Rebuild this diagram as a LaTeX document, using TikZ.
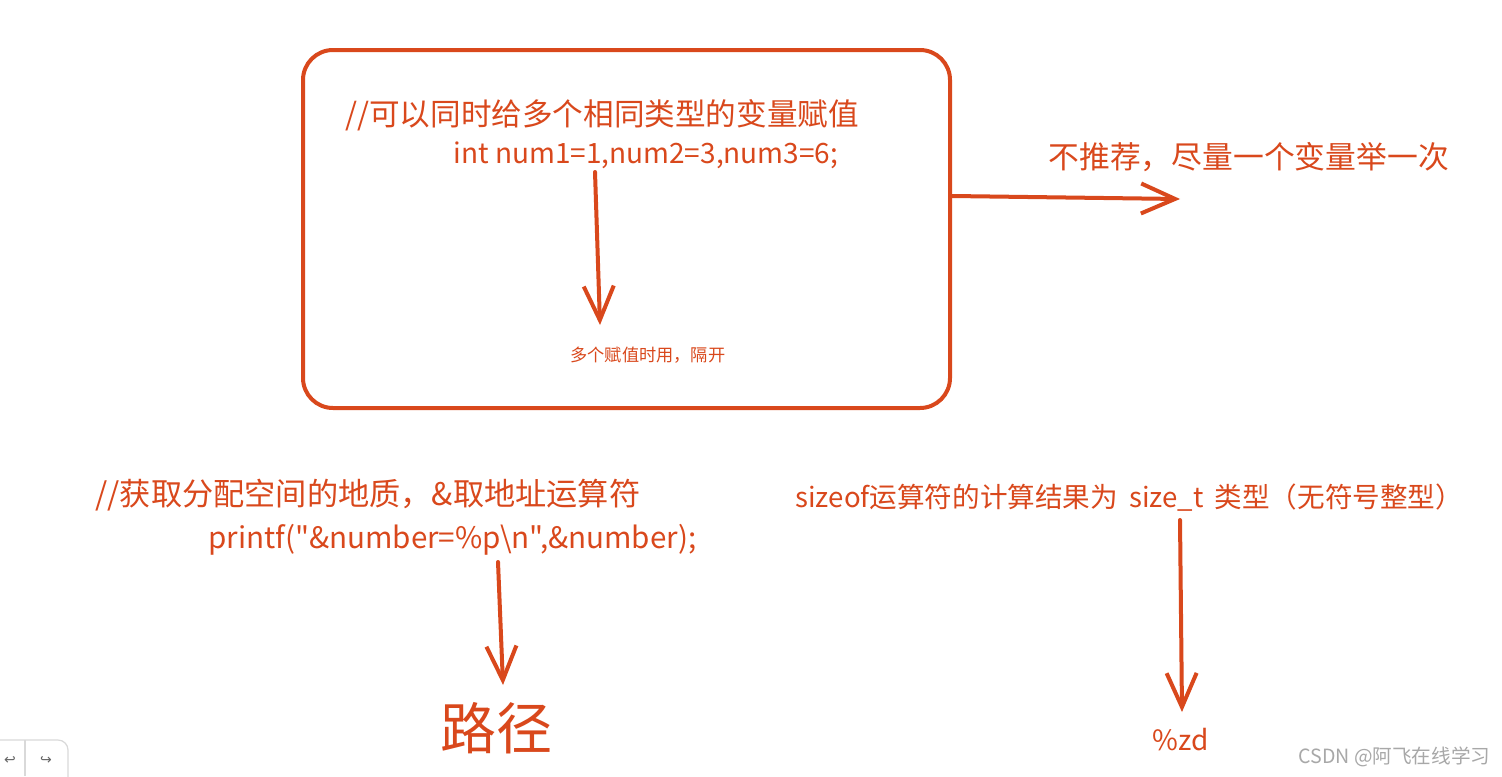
\documentclass[tikz,border=0pt]{standalone}
\usepackage{fontspec}
\setmainfont{Noto Sans CJK SC}
\newfontfamily\codefont{Noto Sans CJK SC}[Ligatures=TeXOff]
\newfontfamily\symfont{DejaVu Sans}
\usetikzlibrary{arrows.meta}
\definecolor{ink}{HTML}{D9481C}
\definecolor{wm}{HTML}{A8A8A8}
\tikzset{
  inkline/.style={draw=ink, line width=2pt, line cap=round, line join=round},
  barb/.style={inkline, -{Straight Barb[length=17pt,width=15pt,line width=2pt]}},
  note/.style={text=ink, inner sep=0pt, anchor=west},
}
\begin{document}
\begin{tikzpicture}[x=0.5pt,y=-0.5pt]
\useasboundingbox (0,0) rectangle (1502,776);
\fill[white] (0,0) rectangle (1502,776);
% main box
\draw[inkline, rounded corners=15pt] (303,50) rectangle (950,408);
\node[note, font=\fontsize{15.3pt}{18pt}\selectfont] (t1) at (345,115) {//可以同时给多个相同类型的变量赋值};
\node[note, font=\fontsize{14pt}{17pt}\selectfont] (t2) at (453,155) {int num1=1,num2=3,num3=6;};
\coordinate (a1s) at (595,172);
\coordinate (a1e) at (600,325);
\draw[barb] (a1s) -- (a1e);
\node[note, font=\fontsize{8.6pt}{10pt}\selectfont] (t3) at (570,355) {多个赋值时用，隔开};
% right arrow
\coordinate (a2s) at (952,196);
\coordinate (a2e) at (1180,199);
\draw[barb] (a2s) -- (a2e);
\node[note, font=\fontsize{15.4pt}{18pt}\selectfont] (t4) at (1048,157) {不推荐，尽量一个变量举一次};
% bottom left
\node[note, font=\fontsize{15.6pt}{18pt}\selectfont] (t5) at (95,495) {//获取分配空间的地质，\&取地址运算符};
\node[note, font=\codefont\fontsize{14.8pt}{17pt}\selectfont] (t6) at (208,540) {printf("\&number=\%p\textbackslash n",\&number);};
\coordinate (a3s) at (498,562);
\coordinate (a3e) at (503,685);
\draw[barb] (a3s) -- (a3e);
\node[note, font=\fontsize{28pt}{31pt}\selectfont] (t7) at (440,728) {路径};
% bottom right
\node[note, font=\fontsize{13.8pt}{16pt}\selectfont] (t8) at (795,498) {sizeof运算符的计算结果为\hspace{0.4em}size\_t\hspace{0.4em}类型（无符号整型）};
\coordinate (a4s) at (1180,520);
\coordinate (a4e) at (1182,712);
\draw[barb] (a4s) -- (a4e);
\node[note, font=\fontsize{14pt}{17pt}\selectfont] (t9) at (1152,740) {\%zd};
% watermark
\node[anchor=west, inner sep=0pt, text=wm, font=\fontsize{9.8pt}{12pt}\selectfont] (wmk) at (1298,757) {CSDN @阿飞在线学习};
% toolbar fragment
\draw[draw=gray!30, line width=0.6pt, rounded corners=5pt] (-10,740) rectangle (68,790);
\draw[draw=gray!30, line width=0.6pt] (25,740) -- (25,776);
\node[inner sep=0pt, font=\symfont\fontsize{7pt}{8pt}\selectfont, text=gray!80!black] (undo) at (10,761) {↩};
\node[inner sep=0pt, font=\symfont\fontsize{7pt}{8pt}\selectfont, text=gray!80!black] (redo) at (46,761) {↪};
\end{tikzpicture}
\end{document}
